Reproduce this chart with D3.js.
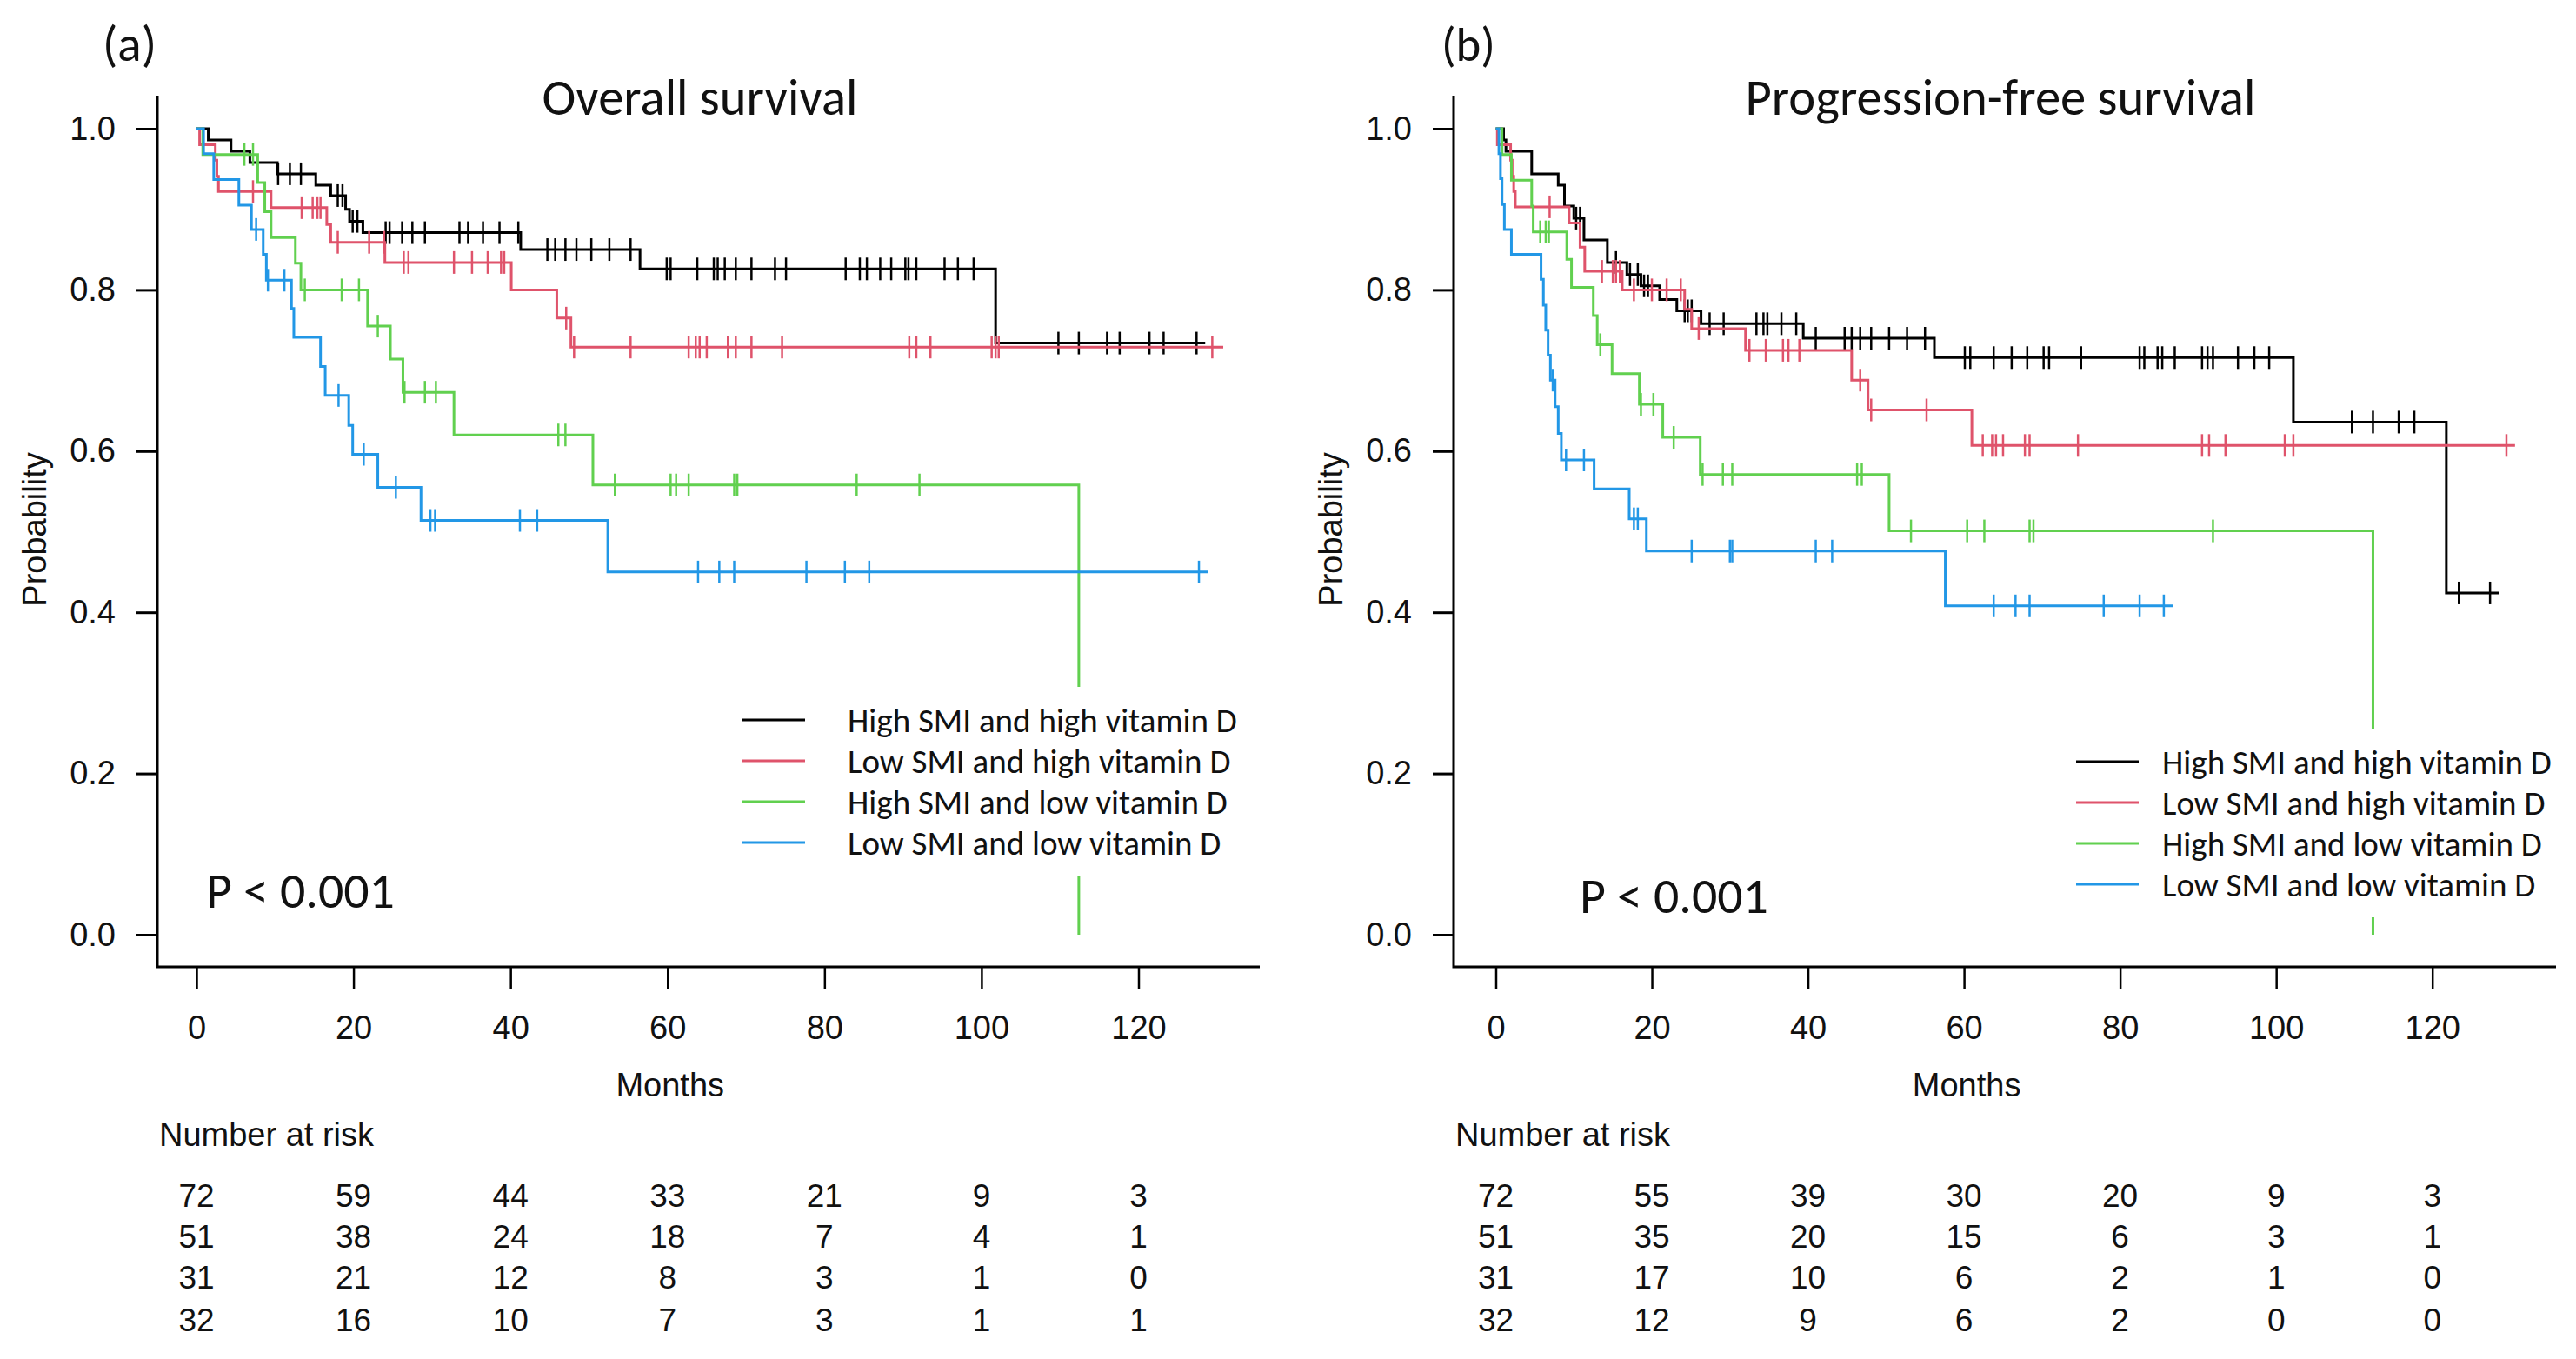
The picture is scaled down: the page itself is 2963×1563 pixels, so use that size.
<!DOCTYPE html>
<html><head><meta charset="utf-8">
<script src="https://cdn.jsdelivr.net/npm/d3@7/dist/d3.min.js"></script>
<style>body{margin:0;background:#fff}svg{display:block}</style>
</head><body>
<svg id="chart" width="2963" height="1563"></svg>
<script>
// ---------------- data ----------------
const monthTicks = [0, 20, 40, 60, 80, 100, 120];
const probTicks = [0, 0.2, 0.4, 0.6, 0.8, 1.0];
const groupLabels = ["High SMI and high vitamin D", "Low SMI and high vitamin D", "High SMI and low vitamin D", "Low SMI and low vitamin D"];
const groupColors = ["#000000", "#DF536B", "#61D04F", "#2297E6"];
const panelLabels = ["(a)", "(b)"];
const panelTitles = ["Overall survival", "Progression-free survival"];
const pValueText = "P < 0.001";
const xTitle = "Months";
const yTitle = "Probability";
const riskTitle = "Number at risk";

const riskOS = [[72, 59, 44, 33, 21, 9, 3], [51, 38, 24, 18, 7, 4, 1], [31, 21, 12, 8, 3, 1, 0], [32, 16, 10, 7, 3, 1, 1]];
const riskPFS = [[72, 55, 39, 30, 20, 9, 3], [51, 35, 20, 15, 6, 3, 1], [31, 17, 10, 6, 2, 1, 0], [32, 12, 9, 6, 2, 0, 0]];

// Overall survival: [month, survival] after each drop
const osHH = [[1.5,0.986],[4.4,0.972],[6.8,0.958],[10.3,0.944],[15.2,0.930],[17.1,0.917],[19.0,0.900],[19.5,0.885],[21.2,0.871],[41.3,0.850],[56.5,0.826],[101.8,0.734]];
const osLH = [[0.4,0.980],[2.4,0.961],[2.6,0.941],[2.8,0.922],[9.5,0.902],[16.6,0.881],[17.1,0.859],[24.0,0.834],[40.1,0.800],[45.9,0.765],[47.7,0.729]];
const osHL = [[0.8,0.968],[7.8,0.933],[8.7,0.897],[9.5,0.865],[12.6,0.833],[13.3,0.800],[21.8,0.755],[24.7,0.714],[26.3,0.673],[32.8,0.620],[50.5,0.558],[112.4,0]];
const osLL = [[0.9,0.969],[2.2,0.937],[5.4,0.905],[7.0,0.875],[8.5,0.844],[8.9,0.812],[12.1,0.777],[12.4,0.741],[15.8,0.705],[16.4,0.669],[19.4,0.632],[19.9,0.596],[23.1,0.555],[28.6,0.514],[52.4,0.450]];
// censoring times (months)
const osHHc = [10.4,11.9,13.3,18.0,18.6,19.9,20.5,24.1,24.6,26.2,27.5,29.1,33.5,34.6,36.5,38.6,41.0,44.7,45.7,47.0,48.4,50.3,52.6,55.3,59.9,60.4,63.8,65.9,66.4,67.3,68.7,70.7,73.7,75.1,82.7,84.5,85.4,87.1,88.5,90.3,90.7,91.7,95.3,97.0,99.0,109.8,112.4,116.0,117.6,121.4,123.2,127.4];
const osLHc = [7.2,13.4,14.8,15.4,15.8,18.0,22.0,23.9,26.4,27.0,32.8,35.1,37.1,38.8,39.2,47.1,48.1,55.3,62.7,63.6,64.1,65.0,67.7,68.7,70.7,74.6,90.8,91.7,93.5,101.3,101.8,102.2,129.4];
const osHLc = [6.1,7.2,13.8,18.5,20.7,23.1,26.5,29.1,30.5,46.1,47.0,53.3,60.4,61.1,62.7,68.5,68.9,84.1,92.1];
const osLLc = [7.6,9.1,11.2,18.1,21.3,25.4,29.8,30.4,41.2,43.4,63.9,66.6,68.5,77.7,82.6,85.7,127.7];
const osEnds = [128.5, 130.8, 112.4, 128.9];

// Progression-free survival
const pfsHH = [[1.0,0.986],[1.3,0.972],[4.6,0.944],[8.0,0.930],[8.8,0.904],[10.0,0.889],[11.3,0.862],[14.3,0.834],[16.8,0.819],[18.6,0.805],[21.0,0.788],[23.2,0.774],[26.3,0.758],[39.4,0.740],[56.2,0.716],[102.2,0.636],[121.8,0.424]];
const pfsLH = [[0.2,0.980],[1.9,0.961],[2.1,0.941],[2.3,0.922],[2.5,0.903],[9.4,0.883],[10.8,0.853],[11.4,0.823],[16.2,0.800],[24.2,0.776],[25.1,0.752],[32.0,0.725],[45.6,0.688],[47.7,0.651],[61.0,0.607]];
const pfsHL = [[0.8,0.968],[2.0,0.936],[4.6,0.904],[4.8,0.872],[9.1,0.838],[9.7,0.803],[12.5,0.768],[13.0,0.732],[14.9,0.696],[18.4,0.658],[21.4,0.617],[26.2,0.571],[50.4,0.501],[112.4,0]];
const pfsLL = [[0.4,0.969],[0.6,0.938],[0.8,0.906],[1.1,0.875],[2.0,0.844],[5.8,0.813],[6.1,0.781],[6.4,0.750],[6.7,0.719],[7.0,0.688],[7.6,0.655],[8.0,0.622],[8.4,0.589],[12.6,0.553],[17.1,0.516],[19.3,0.476],[57.6,0.408]];
const pfsHHc = [10.3,10.8,15.4,17.2,18.2,19.0,19.5,24.2,24.6,25.1,27.4,29.2,33.4,34.3,34.8,36.6,38.5,41.0,44.7,45.6,46.7,48.1,50.4,52.7,55.0,60.1,60.8,63.8,66.1,68.1,70.2,70.9,75.0,82.5,83.1,84.8,85.4,87.0,90.5,91.2,91.9,95.1,97.2,99.1,109.7,112.4,115.7,117.7,123.4,127.4];
const pfsLHc = [6.9,13.6,15.0,15.4,15.9,17.7,20.0,21.9,23.7,26.0,32.5,34.6,36.8,37.5,38.9,46.7,48.1,55.2,62.4,63.6,64.1,65.0,67.8,68.4,74.6,90.5,91.4,93.5,101.1,102.2,129.5];
const pfsHLc = [5.7,6.4,6.8,13.4,18.6,20.2,22.8,26.5,29.1,30.3,46.3,46.9,53.2,60.4,62.6,68.4,68.9,91.9];
const pfsLLc = [7.3,9.0,11.3,17.7,18.2,25.1,30.0,30.3,41.0,43.1,63.8,66.6,68.4,77.9,82.5,85.6];
const pfsEnds = [128.6, 130.6, 112.4, 86.8];

// ---------------- layout ----------------
const AR = "'Liberation Sans', Arial, sans-serif";
const CAL = "Carlito, Lato, 'Open Sans', sans-serif";
const svg = d3.select("#chart");
svg.append("rect").attr("width", 2963).attr("height", 1563).attr("fill", "#fff");

const panels = [
  { off: 0, xr: [226, 1309.5], label: panelLabels[0], labelX: 118, title: panelTitles[0], titleX: 805, titleW: 363,
    pX: 237, pY: 1044, legX: 854, legTX: 975, legY: 828,
    steps: [osHH, osLH, osHL, osLL], cens: [osHHc, osLHc, osHLc, osLLc], ends: osEnds, risk: riskOS },
  { off: 1491, xr: [1720.5, 2797.7], label: panelLabels[1], labelX: 1658, title: panelTitles[1], titleX: 2301, titleW: 587,
    pX: 1817, pY: 1050, legX: 2388, legTX: 2487, legY: 876,
    steps: [pfsHH, pfsLH, pfsHL, pfsLL], cens: [pfsHHc, pfsLHc, pfsHLc, pfsLLc], ends: pfsEnds, risk: riskPFS }
];

function fitText(sel, target) {
  const w = sel.node().getComputedTextLength();
  const fs = parseFloat(sel.attr("font-size"));
  sel.attr("font-size", fs * target / w);
  return fs * target / w;
}

function survAt(steps, t) {
  let s = 1;
  for (const [tt, p] of steps) { if (tt <= t) s = p; }
  return s;
}

panels.forEach(P => {
  const g = svg.append("g");
  const axX = 181 + P.off, axEnd = 1449 + P.off, axY = 1112;
  const x = d3.scaleLinear().domain([0, 120]).range(P.xr);
  const y = d3.scaleLinear().domain([0, 1]).range([1075, 148]);

  // L-shaped frame
  g.append("path").attr("d", `M${axX},110V${axY}H${axEnd}`)
    .attr("fill", "none").attr("stroke", "#000").attr("stroke-width", 3);

  const ya = g.append("g").attr("transform", `translate(${axX},0)`)
    .call(d3.axisLeft(y).tickValues(probTicks).tickSize(24).tickPadding(24).tickFormat(d3.format(".1f")));
  ya.select(".domain").remove();
  ya.selectAll("line").attr("stroke-width", 3);
  ya.selectAll("text").attr("font-family", AR).attr("font-size", 38).attr("fill", "#111");

  const xa = g.append("g").attr("transform", `translate(0,${axY})`)
    .call(d3.axisBottom(x).tickValues(monthTicks).tickSize(25).tickPadding(31));
  xa.select(".domain").remove();
  xa.selectAll("line").attr("stroke-width", 2.5);
  xa.selectAll("text").attr("font-family", AR).attr("font-size", 38).attr("fill", "#111");

  // axis titles
  g.append("text").attr("x", (x(0) + x(120)) / 2 + 3).attr("y", 1261)
    .attr("text-anchor", "middle").attr("font-family", AR).attr("font-size", 38).attr("fill", "#111").text(xTitle);
  g.append("text").attr("transform", `translate(${53 + P.off},609) rotate(-90)`)
    .attr("text-anchor", "middle").attr("font-family", AR).attr("font-size", 38).attr("fill", "#111").text(yTitle);

  // curves
  const line = d3.line().x(d => x(d[0])).y(d => y(d[1])).curve(d3.curveStepAfter);
  P.steps.forEach((st, i) => {
    const last = st[st.length - 1][1];
    const pts = [[0, 1], ...st, [P.ends[i], last]];
    g.append("path").attr("d", line(pts)).attr("fill", "none")
      .attr("stroke", groupColors[i]).attr("stroke-width", 3);
    g.append("g").selectAll("line").data(P.cens[i]).join("line")
      .attr("x1", d => x(d)).attr("x2", d => x(d))
      .attr("y1", d => y(survAt(st, d)) - 13).attr("y2", d => y(survAt(st, d)) + 13)
      .attr("stroke", groupColors[i]).attr("stroke-width", 2.5);
  });

  // legend
  const leg = g.append("g");
  const rowGap = 47;
  const bg = leg.append("rect").attr("fill", "#fff");
  let fs = 36, maxW = 0;
  groupLabels.forEach((lab, i) => {
    leg.append("line").attr("x1", P.legX).attr("x2", P.legX + 72)
      .attr("y1", P.legY + i * rowGap).attr("y2", P.legY + i * rowGap)
      .attr("stroke", groupColors[i]).attr("stroke-width", 3);
  });
  const texts = groupLabels.map((lab, i) => leg.append("text")
    .attr("x", P.legTX).attr("font-family", CAL).attr("font-size", fs).attr("fill", "#111").text(lab));
  fs = fitText(texts[0], 448);
  texts.forEach((t, i) => { t.attr("font-size", fs).attr("y", P.legY + i * rowGap + fs * 0.36); maxW = Math.max(maxW, t.node().getComputedTextLength()); });
  bg.attr("x", P.legX - 15).attr("y", P.legY - 38).attr("width", (P.legTX - P.legX) + maxW + 30).attr("height", 3 * rowGap + 76);

  // p value
  const pt = g.append("text").attr("x", P.pX).attr("y", P.pY).attr("font-family", CAL)
    .attr("font-size", 48).attr("fill", "#111").text(pValueText);
  fitText(pt, 217);

  // titles
  const tt = g.append("text").attr("x", P.titleX).attr("y", 132).attr("text-anchor", "middle")
    .attr("font-family", CAL).attr("font-size", 56).attr("fill", "#111").text(P.title);
  fitText(tt, P.titleW);
  const lt = g.append("text").attr("x", P.labelX).attr("y", 70).attr("font-family", CAL)
    .attr("font-size", 44).attr("fill", "#111").text(P.label);
  fitText(lt, 62);

  // number at risk
  g.append("text").attr("x", 183 + P.off).attr("y", 1318).attr("font-family", AR)
    .attr("font-size", 38).attr("fill", "#111").text(riskTitle);
  const rowsY = [1375, 1422, 1469, 1518];
  P.risk.forEach((row, i) => {
    g.append("g").selectAll("text").data(row).join("text")
      .attr("x", (d, j) => x(monthTicks[j])).attr("y", rowsY[i] + 13)
      .attr("text-anchor", "middle").attr("font-family", AR).attr("font-size", 37).attr("fill", "#111")
      .text(d => d);
  });
});
</script>
</body></html>
